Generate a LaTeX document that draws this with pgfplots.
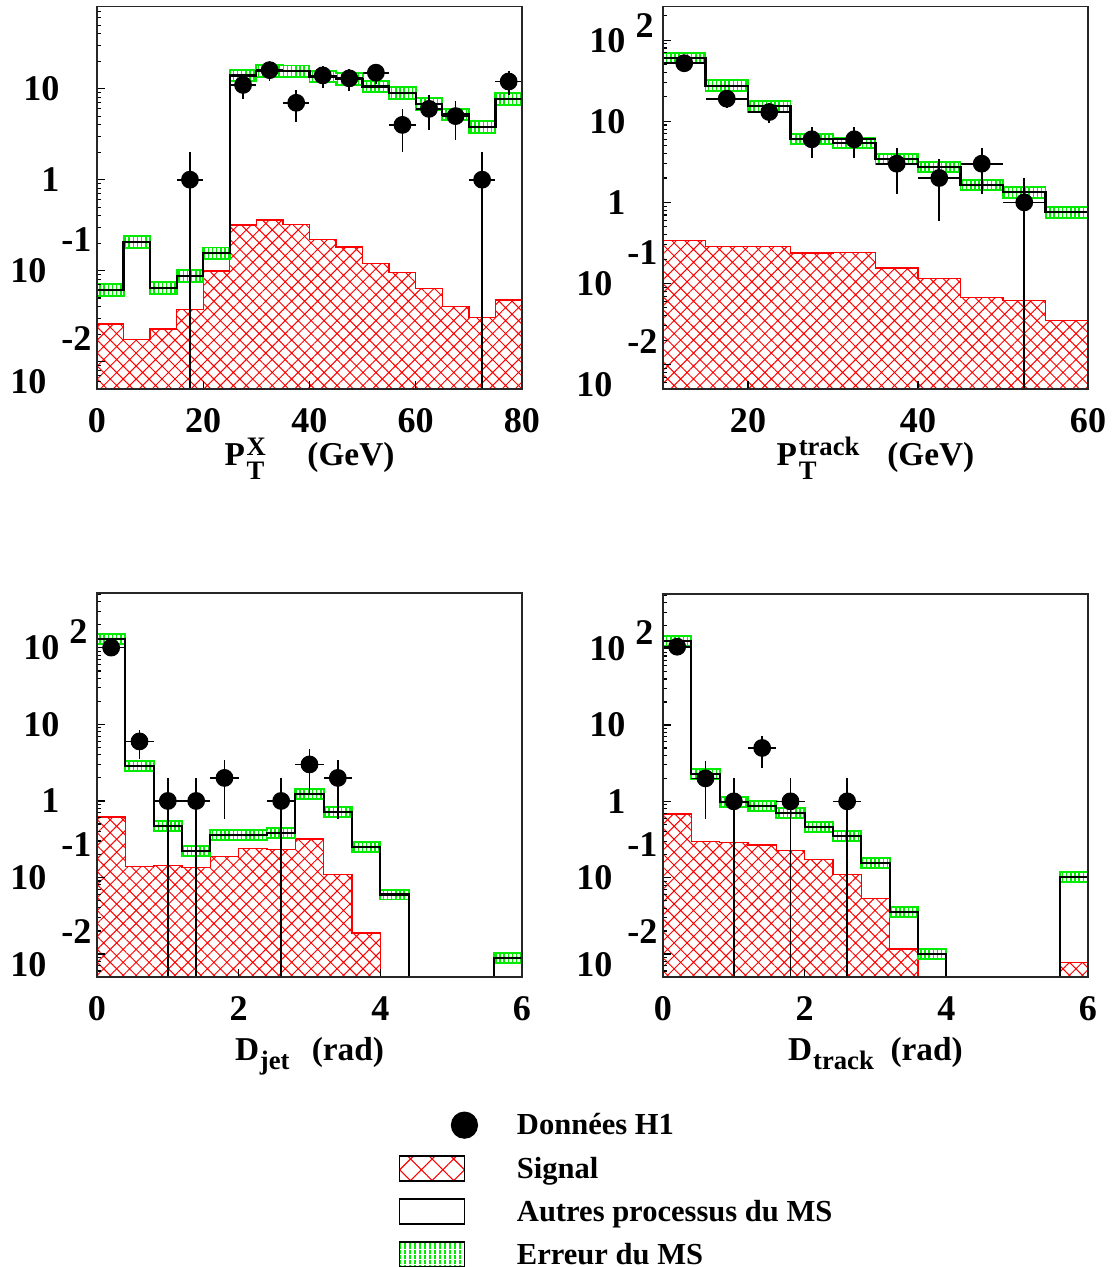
\documentclass[border=0pt]{standalone}
\usepackage{fontspec}
\setmainfont{Liberation Serif}
\usepackage{amsmath}
\usepackage{pgfplots}
\pgfplotsset{compat=1.18}
\usepackage{pgfplotstable}
\usetikzlibrary{patterns.meta}

\definecolor{hgreen}{RGB}{0,235,0}
\definecolor{hred}{RGB}{255,0,0}

\newcommand{\tkf}{\fontsize{13pt}{15pt}\selectfont\bfseries}
\newcommand{\ttf}{\fontsize{12pt}{14pt}\selectfont\bfseries}
\newcommand{\scf}{\fontsize{9.6pt}{10pt}\selectfont\bfseries}
\newcommand{\lgf}{\fontsize{11pt}{13pt}\selectfont\bfseries}
\newcommand{\yneg}[3]{\raisebox{-#3}[\height][\depth]{10\rlap{\hspace{5.4pt}\raisebox{#2}[0pt][0pt]{-#1}}\hspace{4.7pt}}}
\newcommand{\ypos}[2]{10\rlap{\hspace{3.6pt}\raisebox{#2}[0pt][0pt]{#1}}}
% P_T^{#1}
\newcommand{\PT}[1]{P\hspace{0.6pt}\raisebox{-5pt}{\rlap{\scf T}}\raisebox{3.4pt}{\scf #1}}
% D_{#1}
\newcommand{\Dsub}[1]{D\hspace{0.3pt}\raisebox{-3pt}{\scf #1}}

\pgfplotstableread{
x mc sig
0 0.061 0.0258
5 0.206 0.0174
10 0.065 0.0228
15 0.0875 0.0377
20 0.155 0.099
25 14.0 0.317
30 15.7 0.36
35 15.5 0.32
40 13.6 0.221
45 12.8 0.182
50 10.6 0.119
55 8.96 0.095
60 6.8 0.0635
65 5.2 0.0403
70 3.77 0.0305
75 7.7 0.0477
80 7.7 0.0477
}\histA
\pgfplotstableread{
x y ex eyp eym
17.5 1 2.5 1 0.999
27.5 11 2.5 3.317 3.317
32.5 16 2.5 4 4
37.5 7 2.5 2.646 2.646
42.5 14 2.5 3.742 3.742
47.5 13 2.5 3.606 3.606
52.5 15 2.5 3.873 3.873
57.5 4 2.5 2 2
62.5 6 2.5 2.449 2.449
67.5 5 2.5 2.236 2.236
72.5 1 2.5 1 0.999
77.5 12 2.5 3.464 3.464
}\dataA
\pgfplotstableread{
x mc sig
10 60 0.34
15 27.5 0.286
20 15.3 0.286
25 6.05 0.237
30 5.4 0.24
35 3.43 0.155
40 2.73 0.115
45 1.64 0.067
50 1.33 0.0617
55 0.753 0.035
60 0.753 0.035
}\histB
\pgfplotstableread{
x y ex eyp eym
12.5 52 2.5 7.211 7.211
17.5 19 2.5 4.359 4.359
22.5 13 2.5 3.606 3.606
27.5 6 2.5 2.449 2.449
32.5 6 2.5 2.449 2.449
37.5 3 2.5 1.732 1.732
42.5 2 2.5 1.414 1.414
47.5 3 2.5 1.732 1.732
52.5 1 2.5 1 0.999
}\dataB
\pgfplotstableread{
x mc sig
0.0 130 0.616
0.4 2.87 0.139
0.8 0.47 0.143
1.2 0.221 0.136
1.6 0.355 0.188
2.0 0.355 0.238
2.4 0.385 0.23
2.8 1.22 0.318
3.2 0.718 0.109
3.6 0.249 0.0188
4.0 0.0598 0.0001
4.4 0.0001 0.0001
4.8 0.0001 0.0001
5.2 0.0001 0.0001
5.6 0.00877 0.0001
6.0 0.00877 0.0001
}\histC
\pgfplotstableread{
x y ex eyp eym
0.2 101 0.2 10.05 10.05
0.6 6 0.2 2.449 2.449
1.0 1 0.2 1 0.999
1.4 1 0.2 1 0.999
1.8 2 0.2 1.414 1.414
2.6 1 0.2 1 0.999
3.0 3 0.2 1.732 1.732
3.4 2 0.2 1.414 1.414
}\dataC
\pgfplotstableread{
x mc sig
0.0 127 0.682
0.4 2.28 0.296
0.8 0.97 0.288
1.2 0.87 0.268
1.6 0.697 0.226
2.0 0.466 0.174
2.4 0.351 0.111
2.8 0.154 0.0536
3.2 0.0359 0.0116
3.6 0.01 0.0001
4.0 0.0001 0.0001
4.4 0.0001 0.0001
4.8 0.0001 0.0001
5.2 0.0001 0.0001
5.6 0.101 0.0078
6.0 0.101 0.0078
}\histD
\pgfplotstableread{
x y ex eyp eym
0.2 106 0.2 10.3 10.3
0.6 2 0.2 1.414 1.414
1.0 1 0.2 1 0.999
1.4 5 0.2 2.236 2.236
1.8 1 0.2 1 0.999
2.6 1 0.2 1 0.999
}\dataD

\pgfplotsset{
  sigst/.style={const plot mark left, draw=hred, line width=0.5pt,
    pattern={Hatch[angle=45,distance=3.3pt,line width=0.35pt]}, pattern color=hred, forget plot},
  bandup/.style={const plot mark left, draw=none, pattern={Lines[angle=90,distance=1.5pt,line width=0.55pt]}, pattern color=hgreen, forget plot},
  bandlo/.style={const plot mark left, draw=none, fill=white, forget plot},
  bandln/.style={const plot mark left, draw=hgreen, line width=0.7pt, forget plot},
  mcst/.style={const plot mark left, black, line width=0.8pt, forget plot},
  datast/.style={only marks, mark=*, mark size=3pt, black, forget plot,
    error bars/x dir=both, error bars/x explicit, error bars/y dir=both, error bars/y explicit,
    error bars/error mark=none, error bars/error bar style={line width=0.6pt, black}},
}

\begin{document}
\begin{tikzpicture}
\path[use as bounding box] (0,0) rectangle (399.96pt,-456.12pt);

% ---------------- Panel 1 ----------------
\begin{semilogyaxis}[
  scale only axis, width=153pt, height=137.7pt,
  at={(34.92pt,-140.04pt)}, anchor=south west,
  log origin y=infty,
  ymin=0.005, ymax=80, xmin=0, xmax=80,
  axis on top, tick align=inside, tick pos=left,
  major tick length=2.9pt, minor tick length=1.4pt,
  tick style={black, line width=0.4pt},
  axis line style={line width=0.6pt, black!85},
  tick label style={font=\tkf},
  yticklabel style={anchor=east, inner sep=0pt, xshift=-13.3pt},
  xticklabel style={anchor=north, inner sep=0pt, yshift=-6.8pt},
  xlabel style={font=\ttf, at={(axis description cs:0.5,0)}, anchor=base, inner sep=0pt, yshift=-27.5pt},
  xtick={0,20,40,60,80}, xticklabels={0,20,40,60,80},
  ytick={0.01,0.1,1,10},
  yticklabels={{\yneg{2}{15.5pt}{7.2pt}},{\yneg{1}{11.2pt}{0pt}},{1},{10}},
  minor ytick={0.006,0.007,0.008,0.009,0.02,0.03,0.04,0.05,0.06,0.07,0.08,0.09,0.2,0.3,0.4,0.5,0.6,0.7,0.8,0.9,2,3,4,5,6,7,8,9,20,30,40,50,60,70},
  xlabel={\PT{X}\hspace{15pt}(GeV)},
]
\addplot[bandup] table[x=x, y expr=\thisrow{mc}*1.16] {\histA} \closedcycle;
\addplot[bandlo] table[x=x, y expr=\thisrow{mc}/1.16] {\histA} \closedcycle;
\addplot[sigst] table[x=x, y=sig] {\histA} \closedcycle;
\addplot[bandln] table[x=x, y expr=\thisrow{mc}*1.16] {\histA};
\addplot[bandln] table[x=x, y expr=\thisrow{mc}/1.16] {\histA};
\addplot[mcst] table[x=x, y=mc] {\histA};
\addplot[datast] table[x=x, y=y, x error=ex, y error plus=eyp, y error minus=eym] {\dataA};
\end{semilogyaxis}

% ---------------- Panel 2 ----------------
\begin{semilogyaxis}[
  scale only axis, width=153pt, height=137.7pt,
  at={(238.68pt,-140.04pt)}, anchor=south west,
  log origin y=infty,
  ymin=0.005, ymax=260, xmin=10, xmax=60,
  axis on top, tick align=inside, tick pos=left,
  major tick length=2.9pt, minor tick length=1.4pt,
  tick style={black, line width=0.4pt},
  axis line style={line width=0.6pt, black!85},
  tick label style={font=\tkf},
  yticklabel style={anchor=east, inner sep=0pt, xshift=-13.3pt},
  xticklabel style={anchor=north, inner sep=0pt, yshift=-6.8pt},
  xlabel style={font=\ttf, at={(axis description cs:0.5,0)}, anchor=base, inner sep=0pt, yshift=-27.5pt},
  xtick={20,40,60}, xticklabels={20,40,60},
  ytick={0.01,0.1,1,10,100},
  yticklabels={{\yneg{2}{15.5pt}{7.2pt}},{\yneg{1}{11.2pt}{0pt}},{1},{10},{\ypos{2}{5.4pt}}},
  minor ytick={0.006,0.007,0.008,0.009,0.02,0.03,0.04,0.05,0.06,0.07,0.08,0.09,0.2,0.3,0.4,0.5,0.6,0.7,0.8,0.9,2,3,4,5,6,7,8,9,20,30,40,50,60,70,80,90,200},
  xlabel={\PT{track}\hspace{10pt}(GeV)},
]
\addplot[bandup] table[x=x, y expr=\thisrow{mc}*1.16] {\histB} \closedcycle;
\addplot[bandlo] table[x=x, y expr=\thisrow{mc}/1.16] {\histB} \closedcycle;
\addplot[sigst] table[x=x, y=sig] {\histB} \closedcycle;
\addplot[bandln] table[x=x, y expr=\thisrow{mc}*1.16] {\histB};
\addplot[bandln] table[x=x, y expr=\thisrow{mc}/1.16] {\histB};
\addplot[mcst] table[x=x, y=mc] {\histB};
\addplot[datast] table[x=x, y=y, x error=ex, y error plus=eyp, y error minus=eym] {\dataB};
\end{semilogyaxis}

% ---------------- Panel 3 ----------------
\begin{semilogyaxis}[
  scale only axis, width=153pt, height=138.2pt,
  at={(34.92pt,-351.72pt)}, anchor=south west,
  log origin y=infty,
  ymin=0.005, ymax=520, xmin=0, xmax=6,
  axis on top, tick align=inside, tick pos=left,
  major tick length=2.9pt, minor tick length=1.4pt,
  tick style={black, line width=0.4pt},
  axis line style={line width=0.6pt, black!85},
  tick label style={font=\tkf},
  yticklabel style={anchor=east, inner sep=0pt, xshift=-13.3pt},
  xticklabel style={anchor=north, inner sep=0pt, yshift=-6.8pt},
  xlabel style={font=\ttf, at={(axis description cs:0.5,0)}, anchor=base, inner sep=0pt, yshift=-30.2pt},
  xtick={0,2,4,6}, xticklabels={0,2,4,6},
  ytick={0.01,0.1,1,10,100},
  yticklabels={{\yneg{2}{11.9pt}{4pt}},{\yneg{1}{11.9pt}{0pt}},{1},{10},{\ypos{2}{5.8pt}}},
  minor ytick={0.006,0.007,0.008,0.009,0.02,0.03,0.04,0.05,0.06,0.07,0.08,0.09,0.2,0.3,0.4,0.5,0.6,0.7,0.8,0.9,2,3,4,5,6,7,8,9,20,30,40,50,60,70,80,90,200,300,400,500},
  xlabel={\Dsub{jet}\hspace{8pt}(rad)},
]
\addplot[bandup] table[x=x, y expr=\thisrow{mc}*1.16] {\histC} \closedcycle;
\addplot[bandlo] table[x=x, y expr=\thisrow{mc}/1.16] {\histC} \closedcycle;
\addplot[sigst] table[x=x, y=sig] {\histC} \closedcycle;
\addplot[bandln] table[x=x, y expr=\thisrow{mc}*1.16] {\histC};
\addplot[bandln] table[x=x, y expr=\thisrow{mc}/1.16] {\histC};
\addplot[mcst] table[x=x, y=mc] {\histC};
\addplot[datast] table[x=x, y=y, x error=ex, y error plus=eyp, y error minus=eym] {\dataC};
\end{semilogyaxis}

% ---------------- Panel 4 ----------------
\begin{semilogyaxis}[
  scale only axis, width=153pt, height=137.9pt,
  at={(238.68pt,-351.72pt)}, anchor=south west,
  log origin y=infty,
  ymin=0.005, ymax=520, xmin=0, xmax=6,
  axis on top, tick align=inside, tick pos=left,
  major tick length=2.9pt, minor tick length=1.4pt,
  tick style={black, line width=0.4pt},
  axis line style={line width=0.6pt, black!85},
  tick label style={font=\tkf},
  yticklabel style={anchor=east, inner sep=0pt, xshift=-13.3pt},
  xticklabel style={anchor=north, inner sep=0pt, yshift=-6.8pt},
  xlabel style={font=\ttf, at={(axis description cs:0.5,0)}, anchor=base, inner sep=0pt, yshift=-30.2pt},
  xtick={0,2,4,6}, xticklabels={0,2,4,6},
  ytick={0.01,0.1,1,10,100},
  yticklabels={{\yneg{2}{11.9pt}{4pt}},{\yneg{1}{11.9pt}{0pt}},{1},{10},{\ypos{2}{5.8pt}}},
  minor ytick={0.006,0.007,0.008,0.009,0.02,0.03,0.04,0.05,0.06,0.07,0.08,0.09,0.2,0.3,0.4,0.5,0.6,0.7,0.8,0.9,2,3,4,5,6,7,8,9,20,30,40,50,60,70,80,90,200,300,400,500},
  xlabel={\Dsub{track}\hspace{6pt}(rad)},
  legend cell align=left,
  legend style={at={(axis description cs:-0.6221,-0.3512)}, anchor=north west,
    draw=none, fill=none, inner sep=0pt, outer sep=0pt,
    row sep=6pt, column sep=14pt, font=\lgf,
    nodes={inner sep=0pt, text height=7.5pt, text depth=0.5pt}},
]
\addplot[bandup] table[x=x, y expr=\thisrow{mc}*1.16] {\histD} \closedcycle;
\addplot[bandlo] table[x=x, y expr=\thisrow{mc}/1.16] {\histD} \closedcycle;
\addplot[sigst] table[x=x, y=sig] {\histD} \closedcycle;
\addplot[bandln] table[x=x, y expr=\thisrow{mc}*1.16] {\histD};
\addplot[bandln] table[x=x, y expr=\thisrow{mc}/1.16] {\histD};
\addplot[mcst] table[x=x, y=mc] {\histD};
\addplot[datast] table[x=x, y=y, x error=ex, y error plus=eyp, y error minus=eym] {\dataD};

\addlegendimage{legend image code/.code={\fill[black] (23.4pt,0pt) circle (4.7pt);}}
\addlegendentry{Données H1}
\addlegendimage{legend image code/.code={\draw[black, line width=0.5pt, pattern={Hatch[angle=45,distance=5.5pt,line width=0.4pt]}, pattern color=hred] (0pt,-4.5pt) rectangle (23.4pt,4.5pt);}}
\addlegendentry{Signal}
\addlegendimage{legend image code/.code={\draw[black, line width=0.5pt, fill=white] (0pt,-4.5pt) rectangle (23.4pt,4.5pt);}}
\addlegendentry{Autres processus du MS}
\addlegendimage{legend image code/.code={\draw[black, line width=0.5pt, pattern={Lines[angle=90,distance=1.8pt,line width=0.6pt]}, pattern color=hgreen] (0pt,-4.5pt) rectangle (23.4pt,4.5pt);}}
\addlegendentry{Erreur du MS}
\end{semilogyaxis}
\end{tikzpicture}
\end{document}
